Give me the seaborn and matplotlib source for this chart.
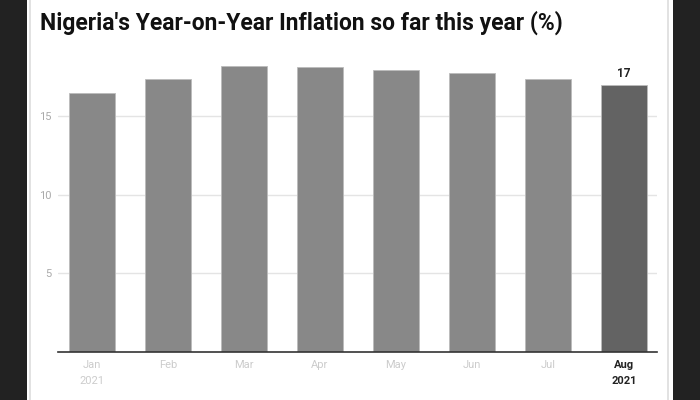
import matplotlib
matplotlib.use("Agg")
import matplotlib.pyplot as plt
from matplotlib.patches import Rectangle
from matplotlib.lines import Line2D
import seaborn as sns
import pandas as pd

months = ["Jan", "Feb", "Mar", "Apr", "May", "Jun", "Jul", "Aug"]
tick_labels = ["Jan\n2021", "Feb", "Mar", "Apr", "May", "Jun", "Jul", "Aug\n2021"]
inflation = [16.47, 17.33, 18.17, 18.12, 17.93, 17.75, 17.38, 17.01]
highlight = ["no", "no", "no", "no", "no", "no", "no", "yes"]

sns.set_theme(style="white")
plt.rcParams["font.family"] = ["Roboto", "DejaVu Sans"]

df = pd.DataFrame({"month": months, "value": inflation, "hl": highlight})

fig = plt.figure(figsize=(7, 4), dpi=100)
fig.patch.set_facecolor("#222222")
# white card with thin grey edges
fig.add_artist(Rectangle((27 / 700, 0), 646 / 700, 1, transform=fig.transFigure,
                         facecolor="white", edgecolor="none", zorder=-2))
for xp in (29.5, 668):
    fig.add_artist(Line2D([xp / 700, xp / 700], [0, 1], transform=fig.transFigure,
                          color="#dddddd", linewidth=1.2, zorder=-1))

ax = fig.add_axes([58 / 700, 48 / 400, 599 / 700, 314.5 / 400])
ax.set_zorder(2)
ax.set_facecolor("white")
sns.barplot(data=df, x="month", y="value", hue="hl",
            palette={"no": "#888888", "yes": "#636363"},
            width=0.605, legend=False, ax=ax, edgecolor="#bbbbbb", linewidth=0.6)

ax.set_xlim(-0.447, 7.435)
ax.set_ylim(0, 20)
ax.set_yticks([5, 10, 15])
ax.yaxis.grid(True, color="#e4e4e4", linewidth=1)
ax.set_axisbelow(True)
for s in ("top", "right", "left"):
    ax.spines[s].set_visible(False)
ax.spines["bottom"].set_color("#333333")
ax.spines["bottom"].set_linewidth(1.2)
ax.set_xlabel("")
ax.set_ylabel("")
ax.tick_params(axis="y", length=0, labelsize=8, labelcolor="#aaaaaa", pad=4.5)
ax.tick_params(axis="x", length=0, labelsize=8, pad=6)
ax.set_xticks(range(len(months)))
ax.set_xticklabels(tick_labels)
for i, lbl in enumerate(ax.get_xticklabels()):
    if highlight[i] == "yes":
        lbl.set_color("#222222")
        lbl.set_fontweight("bold")
    else:
        lbl.set_color("#cccccc")
    lbl.set_linespacing(1.75)

last = len(months) - 1
ax.text(last, inflation[last] + 0.3, f"{inflation[last]:.0f}", ha="center", va="bottom",
        fontsize=8.5, fontweight="bold", color="#222222")

fig.text(40 / 700, 1 - 30 / 400, "Nigeria's Year-on-Year Inflation so far this year (%)",
         fontsize=16.5, fontweight="bold", color="#111111", va="baseline", ha="left")

fig.savefig("out.png", dpi=100, facecolor=fig.get_facecolor())
